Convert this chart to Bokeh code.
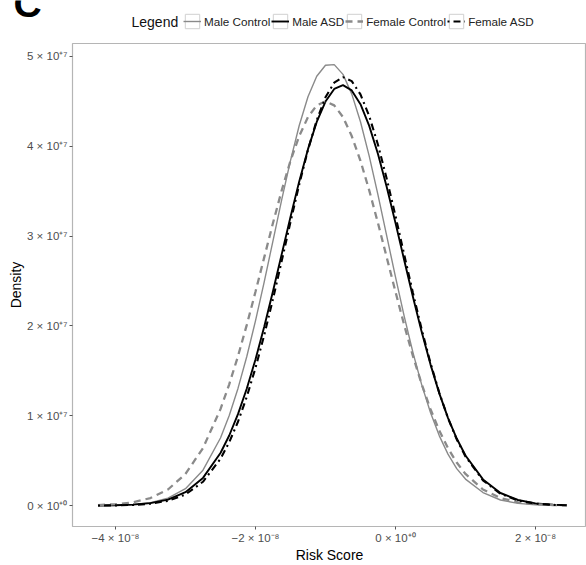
from bokeh.plotting import figure
from bokeh.layouts import column
from bokeh.models import (ColumnDataSource, Range1d, FixedTicker, Legend, LegendItem, Label)
from bokeh.embed import file_html
from bokeh.resources import INLINE

# Risk score (units of 1e-8) and density (units of 1e7)
risk_score = [-4.25, -4.0, -3.75, -3.5, -3.25, -3.0, -2.75,
              -2.5, -2.375, -2.25, -2.125, -2.0, -1.875, -1.75, -1.625, -1.5,
              -1.375, -1.25, -1.125, -1.0, -0.875, -0.75, -0.625, -0.5, -0.375,
              -0.25, -0.125, 0.0, 0.125, 0.25, 0.375, 0.5, 0.625, 0.75, 0.875, 1.0,
              1.25, 1.5, 1.75, 2.0, 2.25, 2.45]

male_control = [0.001, 0.004, 0.012, 0.032, 0.082, 0.188, 0.394,
                0.752, 1.002, 1.304, 1.657, 2.056, 2.491, 2.947, 3.405, 3.841,
                4.231, 4.551, 4.779, 4.902, 4.909, 4.800, 4.583, 4.273, 3.891,
                3.459, 3.003, 2.545, 2.107, 1.703, 1.344, 1.036, 0.779, 0.573, 0.411, 0.295,
                0.145, 0.062, 0.025, 0.009, 0.003, 0.001]

male_asd = [0.001, 0.004, 0.010, 0.027, 0.066, 0.149, 0.308,
            0.585, 0.780, 1.018, 1.301, 1.627, 1.991, 2.386, 2.799, 3.212,
            3.609, 3.968, 4.271, 4.498, 4.638, 4.680, 4.622, 4.468, 4.227,
            3.914, 3.547, 3.147, 2.732, 2.322, 1.931, 1.572, 1.252, 0.977, 0.746, 0.557,
            0.291, 0.140, 0.062, 0.025, 0.009, 0.005]

female_control = [0.005, 0.015, 0.036, 0.084, 0.179, 0.352, 0.640,
                  1.074, 1.350, 1.663, 2.009, 2.380, 2.763, 3.145, 3.509, 3.838,
                  4.114, 4.325, 4.455, 4.500, 4.455, 4.325, 4.114, 3.838, 3.509,
                  3.145, 2.763, 2.380, 2.009, 1.663, 1.350, 1.074, 0.837, 0.640, 0.479, 0.352,
                  0.179, 0.084, 0.036, 0.015, 0.005, 0.002]

female_asd = [0.001, 0.002, 0.007, 0.021, 0.053, 0.123, 0.265,
              0.520, 0.705, 0.933, 1.209, 1.532, 1.898, 2.299, 2.724, 3.156,
              3.575, 3.960, 4.290, 4.545, 4.708, 4.770, 4.725, 4.577, 4.336,
              4.017, 3.639, 3.224, 2.793, 2.366, 1.960, 1.588, 1.258, 0.975, 0.738, 0.547,
              0.281, 0.132, 0.057, 0.022, 0.008, 0.003]

series_names = ["Male Control", "Male ASD", "Female Control", "Female ASD"]
legend_title = "Legend"
panel_letter = "C"

x_tick_values = [-4, -2, 0, 2]
x_tick_labels = ["\u22124 \u00d7 10\u207b\u2078", "\u22122 \u00d7 10\u207b\u2078",
                 "0 \u00d7 10\u207a\u2070", "2 \u00d7 10\u207b\u2078"]
y_tick_values = [0, 1, 2, 3, 4, 5]
y_tick_labels = ["0 \u00d7 10\u207a\u2070", "1 \u00d7 10\u207a\u2077", "2 \u00d7 10\u207a\u2077",
                 "3 \u00d7 10\u207a\u2077", "4 \u00d7 10\u207a\u2077", "5 \u00d7 10\u207a\u2077"]

FONT = "Liberation Sans"
GRAY = "#8a8a8a"
cols = ["mc", "ma", "fc", "fa"]
styles = [dict(line_color=GRAY, line_width=1.4),
          dict(line_color="black", line_width=1.9),
          dict(line_color=GRAY, line_width=2.3, line_dash="7 5"),
          dict(line_color="black", line_width=2.1, line_dash="2 4 7 4")]

src = ColumnDataSource(dict(x=risk_score, mc=male_control, ma=male_asd,
                            fc=female_control, fa=female_asd))

# ---------------- main plot ----------------
p = figure(width=586, height=523, output_backend="svg", toolbar_location=None,
           x_range=Range1d(-4.614, 2.729), y_range=Range1d(-0.233, 5.144),
           min_border_left=72, min_border_right=0, min_border_top=1, min_border_bottom=39)

for col, st in zip(cols, styles):
    p.line("x", col, source=src, **st)

p.xgrid.visible = False
p.ygrid.visible = False
p.outline_line_color = "#b5b5b5"
p.outline_line_width = 1.2

for ax in (p.xaxis[0], p.yaxis[0]):
    ax.axis_line_color = None
    ax.major_tick_line_color = "#555555"
    ax.major_tick_in = 0
    ax.major_tick_out = 3
    ax.minor_tick_line_color = None
    ax.major_label_text_font = FONT
    ax.major_label_text_font_size = "11.5px"
    ax.major_label_text_color = "#4d4d4d"
    ax.major_label_standoff = 2
    ax.axis_label_text_font = FONT
    ax.axis_label_text_font_size = "14px"
    ax.axis_label_text_font_style = "normal"
    ax.axis_label_text_color = "black"

p.xaxis[0].ticker = FixedTicker(ticks=x_tick_values)
p.xaxis[0].major_label_overrides = dict(zip(x_tick_values, x_tick_labels))
p.yaxis[0].ticker = FixedTicker(ticks=y_tick_values)
p.yaxis[0].major_label_overrides = dict(zip(y_tick_values, y_tick_labels))
p.xaxis[0].axis_label = "Risk Score"
p.yaxis[0].axis_label = "Density"
p.xaxis[0].axis_label_standoff = 0
p.yaxis[0].axis_label_standoff = 0

# ---------------- legend strip on top ----------------
# its ranges lie outside the data, so the key renderers draw only in the legend
h = figure(width=586, height=42, output_backend="svg", toolbar_location=None,
           x_range=Range1d(100, 101), y_range=Range1d(100, 101),
           x_axis_type=None, y_axis_type=None,
           min_border_left=0, min_border_right=0, min_border_top=0, min_border_bottom=0)
h.xgrid.visible = False
h.ygrid.visible = False
h.outline_line_color = None
try:
    h.frame_align = False
    p.frame_align = False
except Exception:
    pass

r_box = h.quad(left="x", right="x", top="mc", bottom="mc", source=src,
               fill_color="#ffffff", line_color="#d0d0d0", line_width=1)
key_lines = [h.line("x", col, source=src, **st) for col, st in zip(cols, styles)]

items = [LegendItem(label=n, renderers=[r_box, r]) for n, r in zip(series_names, key_lines)]
legend = Legend(items=items, orientation="horizontal", location=(183, 12),
                label_text_font=FONT, label_text_font_size="11.7px", label_text_color="#222222",
                label_standoff=3, spacing=1, glyph_width=18, glyph_height=18,
                label_height=18, padding=0, margin=0, border_line_color=None,
                background_fill_alpha=0)
h.add_layout(legend)

h.add_layout(Label(x=131, y=21, x_units="screen", y_units="screen", text=legend_title,
                   text_font=FONT, text_font_size="14px", text_color="#111111",
                   text_baseline="middle"))
h.add_layout(Label(x=13, y=39, x_units="screen", y_units="screen", text=panel_letter,
                   text_font=FONT, text_font_size="39px", text_font_style="bold",
                   text_color="black", text_baseline="alphabetic"))

layout = column(h, p, spacing=0)
open("out.html", "w").write(file_html(layout, INLINE))
